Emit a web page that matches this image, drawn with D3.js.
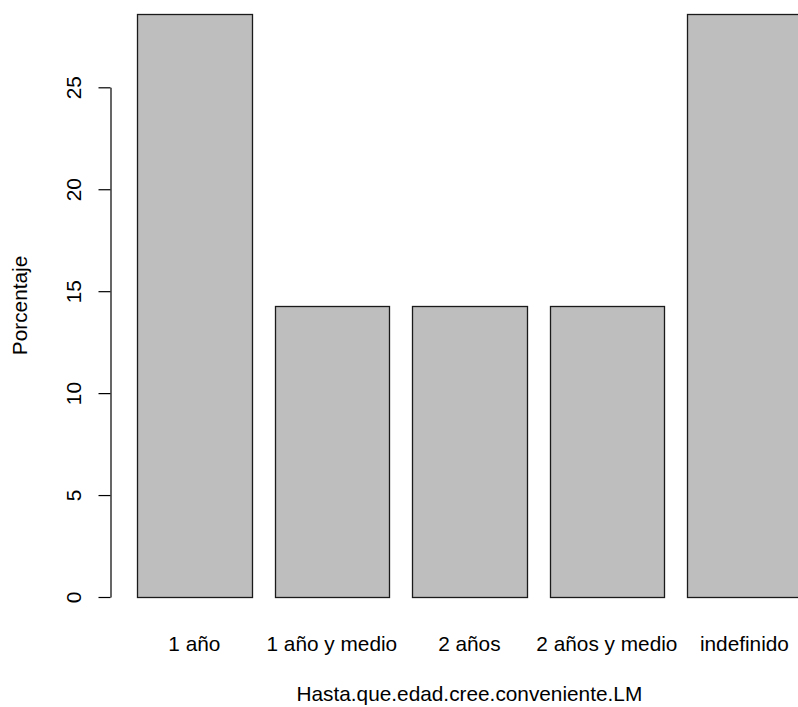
<!DOCTYPE html>
<html>
<head>
<meta charset="utf-8">
<script src="https://cdn.jsdelivr.net/npm/d3@7"></script>
<style>
  html, body { margin: 0; padding: 0; background: #fff; }
  svg { display: block; }
  text { font-family: "Liberation Sans", Arial, sans-serif; fill: #000; }
</style>
</head>
<body>
<svg id="chart" width="798" height="707"></svg>
<script>
const categories = ["1 año", "1 año y medio", "2 años", "2 años y medio", "indefinido"];
const values = [28.571, 14.286, 14.286, 14.286, 28.571];
const yTicks = [0, 5, 10, 15, 20, 25];
const xTitle = "Hasta.que.edad.cree.conveniente.LM";
const yTitle = "Porcentaje";

const svg = d3.select("#chart");
const barSpace = 0.2, barWidth = 1;
const FS = 20.8;

const x = d3.scaleLinear().domain([0, 6]).range([114.1, 801.7]);
const y = d3.scaleLinear().domain([0, 25]).range([597, 87.3]);

const data = categories.map((c, i) => ({ cat: c, val: values[i], x0: barSpace + i * (barWidth + barSpace) }));

svg.append("g").selectAll("rect").data(data).join("rect")
  .attr("x", d => Math.round(x(d.x0)) + 0.5)
  .attr("y", d => Math.round(y(d.val)) + 0.5)
  .attr("width", d => Math.round(x(d.x0 + barWidth)) - Math.round(x(d.x0)))
  .attr("height", d => Math.round(y(0)) - Math.round(y(d.val)))
  .attr("fill", "#bebebe")
  .attr("stroke", "#1a1a1a")
  .attr("stroke-width", 1.3);

const yAxis = d3.axisLeft(y).tickValues(yTicks).tickSize(12).tickSizeOuter(0).tickPadding(0);
const gy = svg.append("g").attr("transform", "translate(110.5,0)").call(yAxis);
gy.selectAll("path.domain").attr("stroke", "#000").attr("stroke-width", 1.2);
gy.selectAll(".tick line").attr("stroke", "#000").attr("stroke-width", 1.2);
gy.selectAll(".tick text").remove();
gy.selectAll(".tick").append("text")
  .attr("transform", "translate(-30,0) rotate(-90)")
  .attr("text-anchor", "middle")
  .attr("font-size", FS)
  .text(d => d);

svg.append("g").selectAll("text").data(data).join("text")
  .attr("x", d => x(d.x0 + barWidth / 2))
  .attr("y", 651)
  .attr("text-anchor", "middle")
  .attr("font-size", FS)
  .text(d => d.cat);

svg.append("text")
  .attr("x", x(3.1))
  .attr("y", 701)
  .attr("text-anchor", "middle")
  .attr("font-size", FS)
  .text(xTitle);

svg.append("text")
  .attr("transform", `translate(27,${y(14.3)}) rotate(-90)`)
  .attr("text-anchor", "middle")
  .attr("font-size", FS)
  .text(yTitle);
</script>
</body>
</html>
